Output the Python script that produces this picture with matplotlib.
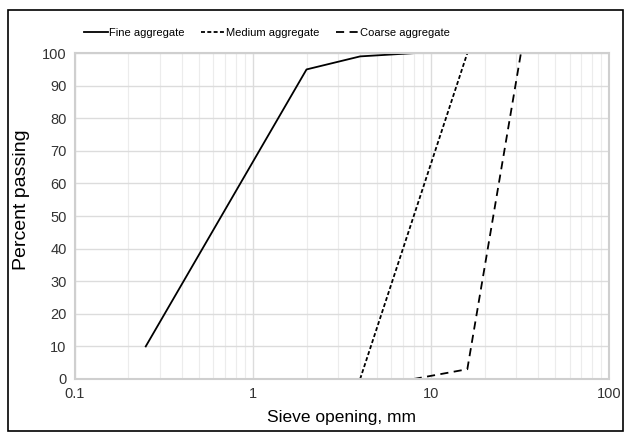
import matplotlib
matplotlib.use('Agg')
import matplotlib.pyplot as plt
from matplotlib.patches import Rectangle
from matplotlib.ticker import LogLocator, NullFormatter

plt.rcParams['font.family'] = ['Liberation Sans', 'DejaVu Sans']

# sieve opening (mm) vs percent passing
fine_x = [0.25, 2, 4, 8]
fine_y = [10, 95, 99, 100]
medium_x = [4, 16]
medium_y = [0, 100]
coarse_x = [8, 16, 32]
coarse_y = [0, 3, 100]

fig = plt.figure(figsize=(6.24, 4.32), dpi=100)
ax = fig.add_axes([0.120, 0.1227, 0.856, 0.7543])

ax.plot(fine_x, fine_y, color='black', lw=1.3, ls='-', label='Fine aggregate')
ax.plot(medium_x, medium_y, color='black', lw=1.3, ls=(0, (2.2, 1.3)), label='Medium aggregate')
ax.plot(coarse_x, coarse_y, color='black', lw=1.3, ls=(0, (4.5, 3)), label='Coarse aggregate')

ax.set_xscale('log')
ax.set_xlim(0.1, 100)
ax.set_ylim(0, 100)
ax.set_xticks([0.1, 1, 10, 100])
ax.set_xticklabels(['0.1', '1', '10', '100'])
ax.xaxis.set_minor_locator(LogLocator(base=10, subs=range(2, 10)))
ax.xaxis.set_minor_formatter(NullFormatter())
ax.set_yticks(range(0, 101, 10))

ax.grid(True, which='major', color='#dcdcdc', lw=1.0)
ax.grid(True, which='minor', axis='x', color='#ececec', lw=0.8)
ax.set_axisbelow(True)
ax.tick_params(which='both', length=0, labelsize=10.5, colors='#333333', pad=6)
for s in ax.spines.values():
    s.set_color('#cfcfcf')
    s.set_linewidth(1.5)

ax.set_xlabel('Sieve opening, mm', fontsize=12.5, labelpad=6)
ax.set_ylabel('Percent passing', fontsize=14)
ax.yaxis.set_label_coords(-0.084, 0.55)

ax.legend(loc='lower center', bbox_to_anchor=(0.36, 1.0), ncol=3, frameon=False,
          fontsize=8.0, handlelength=2.1, handletextpad=0.1, columnspacing=1.5,
          borderaxespad=1.0)

fig.patches.append(Rectangle((8 / 624, 0.002), 615 / 624, 1 - 10 / 432 - 0.002,
                             transform=fig.transFigure, fill=False,
                             edgecolor='black', lw=1.2))

fig.savefig('out.png', dpi=100)
